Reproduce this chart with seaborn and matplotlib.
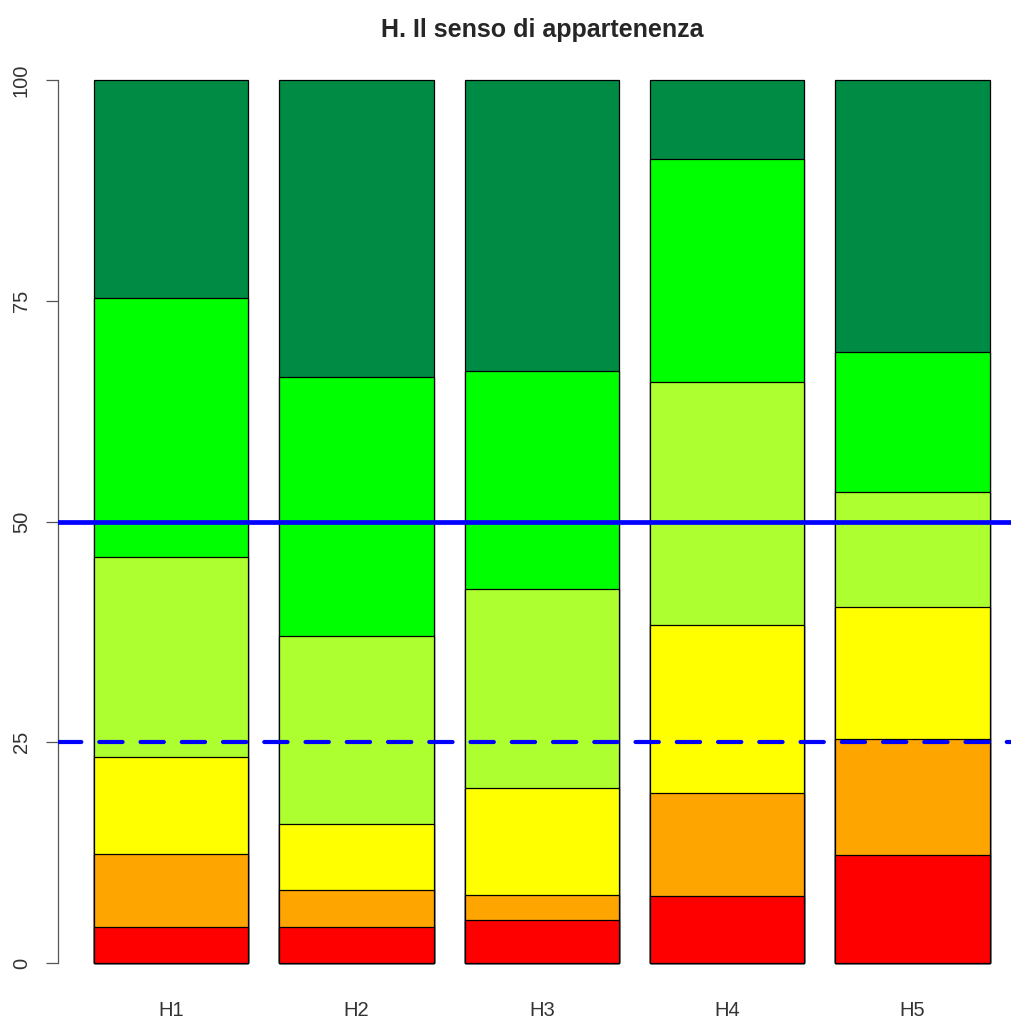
import matplotlib
matplotlib.use('Agg')
import matplotlib.pyplot as plt
import seaborn as sns
import numpy as np

# dati (percentuali per livello)
domande = ["H1", "H2", "H3", "H4", "H5"]
livello1 = [4.1, 4.1, 4.9, 7.6, 12.2]
livello2 = [8.2, 4.2, 2.8, 11.7, 13.2]
livello3 = [11.0, 7.4, 12.1, 19.0, 14.9]
livello4 = [22.7, 21.3, 22.6, 27.5, 13.0]
livello5 = [29.3, 29.4, 24.6, 25.3, 15.9]
livello6 = [24.7, 33.6, 33.0, 8.9, 30.8]

colori = ["#FF0000", "#FFA500", "#FFFF00", "#ADFF2F", "#00FF00", "#008B45"]

sns.set_theme(style="white")
plt.rcParams['font.family'] = ['Liberation Sans', 'DejaVu Sans']

fig = plt.figure(figsize=(10.12, 10.19), dpi=100)
ax = fig.add_axes([0.0575, 0.0203, 0.956, 0.9358])

livelli = [livello1, livello2, livello3, livello4, livello5, livello6]
cumulate = np.cumsum(np.array(livelli), axis=0)

# barre sovrapposte: dalla cumulata più alta alla più bassa
for i in range(len(livelli) - 1, -1, -1):
    sns.barplot(x=domande, y=cumulate[i], color=colori[i], width=1 / 1.2,
                edgecolor="black", linewidth=0.9, saturation=1, ax=ax)

ax.axhline(50, color="#0000FF", linewidth=3.4, zorder=5)
ax.axhline(25, color="#0000FF", linewidth=3.0, linestyle=(0, (5.6, 4.3)),
           dash_capstyle="round", zorder=5)

ax.set_xlim(-0.61, 4.61)
ax.set_ylim(-4, 104)
for s in ["top", "right", "bottom"]:
    ax.spines[s].set_visible(False)
ax.spines["left"].set_bounds(0, 100)
ax.spines["left"].set_color("#555555")
ax.spines["left"].set_linewidth(0.9)
ax.spines["left"].set_position(("data", -0.61))

ax.set_yticks([0, 25, 50, 75, 100])
ax.set_yticklabels(["0", "25", "50", "75", "100"], rotation=90, va="center",
                   fontsize=14.5, color="#333333")
ax.tick_params(axis="y", left=True, length=8.6, width=0.9, color="#555555", pad=11)
ax.set_xticks(range(len(domande)))
ax.set_xticklabels(domande, va="center")
ax.tick_params(axis="x", bottom=False, length=0, labelsize=14.5, pad=8.6, labelcolor="#333333")
ax.set_xlabel("")
ax.set_ylabel("")

ax.set_title("H. Il senso di appartenenza", fontsize=18, fontweight="bold", pad=0,
             y=(1019 - 30) / 1019 / 0.9358 - 0.0203 / 0.9358, va="center")

fig.savefig("out.png", dpi=100)
plt.close()
